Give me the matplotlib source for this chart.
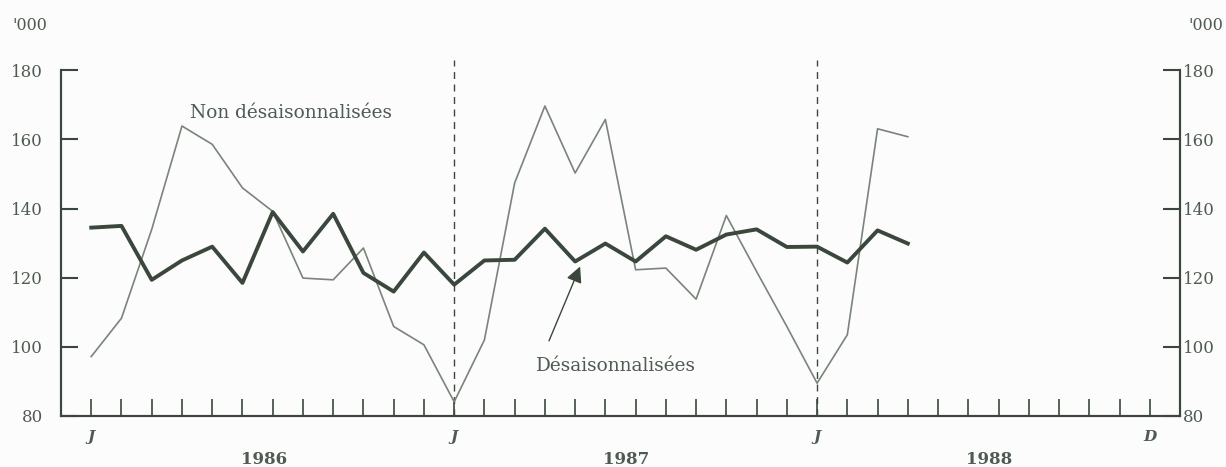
import matplotlib.pyplot as plt
import matplotlib.transforms as mtransforms

# monthly series, Jan 1986 .. Apr 1988 (thousands)
months = list(range(28))
nsa = [97.2, 108.3, 134, 163.9, 158.6, 146, 139.2, 119.9, 119.4, 128.6, 105.9, 100.6,
       84.1, 102, 147.4, 169.7, 150.3, 165.8, 122.3, 122.8, 113.8, 138, 121.8, 105.9,
       89.5, 103.5, 163.1, 160.8]
sa = [134.5, 135, 119.4, 125, 129, 118.5, 139, 127.6, 138.5, 121.4, 116, 127.3,
      118, 125, 125.2, 134.2, 124.7, 129.9, 124.7, 132, 128.1, 132.5, 134, 128.9,
      129, 124.4, 133.7, 129.9]
month_labels = {0: 'J', 12: 'J', 24: 'J', 35: 'D'}
years = ['1986', '1987', '1988']
yticks = [80, 100, 120, 140, 160, 180]

ink = '#3b473d'
thin = '#7a847b'
txt = '#4f5a50'
serif = 'DejaVu Serif'

fig = plt.figure(figsize=(12.26, 4.67), dpi=100)
fig.patch.set_facecolor('#fbfcfb')
ax = fig.add_axes([61 / 1226, 51 / 467, (1180 - 61) / 1226, (416 - 60) / 467])
ax.set_facecolor('none')
ax.set_xlim(-1, 36)
ax.set_ylim(80, 183)

ax.plot(months, nsa, color=thin, lw=1.2, zorder=3)
ax.plot(months, sa, color=ink, lw=2.8, zorder=4)

for m in (12, 24):
    ax.axvline(m, color=ink, lw=1.0, ls=(0, (5, 4)), zorder=2)

# right axis: same scale, labels close to the spine
ax2 = ax.twinx()
ax2.set_ylim(ax.get_ylim())

for a in (ax, ax2):
    a.spines['top'].set_visible(False)
    for s in ('left', 'right', 'bottom'):
        a.spines[s].set_color(ink)
        a.spines[s].set_linewidth(1.5)
    a.spines['left'].set_bounds(80, 180)
    a.spines['right'].set_bounds(80, 180)

ax.set_xticks(range(36))
ax.set_xticklabels([month_labels.get(i, '') for i in range(36)],
                   fontfamily=serif, fontweight='bold', fontstyle='italic',
                   fontsize=11, color=txt)
ax.tick_params(axis='x', direction='in', length=12, width=1.2, color=ink, pad=10)

ax.set_yticks(yticks)
ax.set_yticklabels([str(v) for v in yticks], fontfamily=serif, fontsize=12, color=txt)
ax.tick_params(axis='y', direction='in', length=12, width=1.5, color=ink, pad=13)

ax2.set_yticks(yticks)
ax2.set_yticklabels([str(v) for v in yticks], fontfamily=serif, fontsize=12, color=txt)
ax2.tick_params(axis='y', direction='in', length=12, width=1.5, color=ink, pad=2)

trans = mtransforms.blended_transform_factory(ax.transData, fig.transFigure)
for i, y in enumerate(years):
    ax.text(5.7 + 12 * i, 7 / 467, y, transform=trans, ha='center', va='center',
            fontfamily=serif, fontweight='bold', fontsize=12, color=txt)

fig.text(12 / 1226, 1 - 25 / 467, "'000", fontfamily=serif, fontsize=11.5, color=txt,
         va='center', ha='left')
fig.text(1188 / 1226, 1 - 25 / 467, "'000", fontfamily=serif, fontsize=11.5, color=txt,
         va='center', ha='left')

ax.text(6.62, 167.8, 'Non désaisonnalisées', fontfamily=serif, fontsize=13.3, color=txt,
        ha='center', va='center')
ax.text(17.35, 94.6, 'Désaisonnalisées', fontfamily=serif, fontsize=13.3, color=txt,
        ha='center', va='center')
ax.annotate('', xy=(16.2, 124.0), xytext=(15.1, 101.0),
            arrowprops=dict(arrowstyle='-|>', color=ink, lw=1.0, mutation_scale=24))

fig.savefig('out.png', dpi=100, facecolor=fig.get_facecolor())
